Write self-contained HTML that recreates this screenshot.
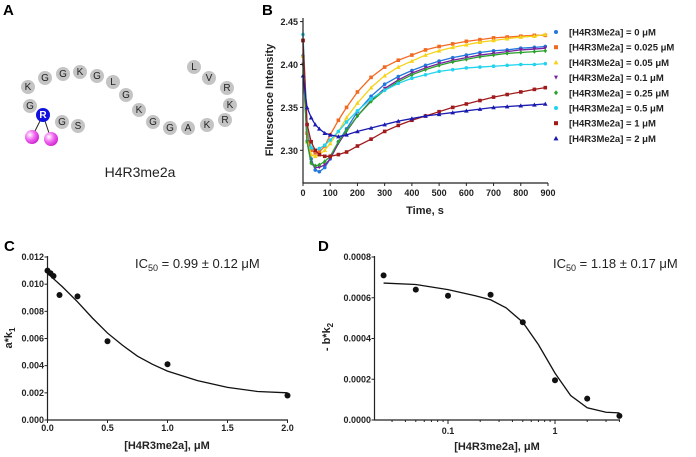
<!DOCTYPE html>
<html><head><meta charset="utf-8"><style>
body{margin:0;background:#fff;}
svg{display:block;font-family:"Liberation Sans",Arial,sans-serif;}
.t{font-size:9px;font-weight:bold;fill:#222;}
.ti{font-size:11px;font-weight:bold;fill:#222;}
.lg{font-size:9.5px;font-weight:bold;fill:#222;}
.pl{font-size:15px;font-weight:bold;}
.aa{font-size:10px;fill:#222;text-anchor:middle;dominant-baseline:central;}
</style></head><body>
<svg id="s" width="696" height="457" viewBox="0 0 696 457">
<text class="pl" x="3" y="15">A</text>
<text class="pl" x="262" y="15">B</text>
<text class="pl" x="4" y="251">C</text>
<text class="pl" x="318" y="251">D</text>
<g id="pa"></g>
<text x="140" y="177" font-size="14" text-anchor="middle" fill="#222">H4R3me2a</text>
<g id="pb"></g>
<g id="pc"></g>
<g id="pd"></g>
</svg>
<script>
const NS="http://www.w3.org/2000/svg";
function mk(p,t,a,txt){const e=document.createElementNS(NS,t);for(const k in a)e.setAttribute(k,a[k]);if(txt!==undefined)e.textContent=txt;p.appendChild(e);return e;}

// ---------- Panel A ----------
const residues=["S","G","R","G","K","G","G","K","G","L","G","K","G","G","A","K","R","K","R","V","L"];
const resX=[78,62,43,30,28,45,63,80,97,113,126,139,153,170,188,207,225,230,227,209,194];
const resY=[126,122,115,106,87,78,74,72,76,82,95,110,122,128,128,125,120,105,88,78,67];
const pa=document.getElementById('pa');
mk(pa,'defs',{}).innerHTML='<radialGradient id="pk" cx="0.35" cy="0.35" r="0.7"><stop offset="0" stop-color="#fff"/><stop offset="0.5" stop-color="#f06bf0"/><stop offset="1" stop-color="#d020d0"/></radialGradient>';
let l1=mk(pa,'line',{x1:43,y1:115,x2:32,y2:137,stroke:'#222','stroke-width':1});

let l2=mk(pa,'line',{x1:43,y1:115,x2:51,y2:139,stroke:'#222','stroke-width':1});

residues.forEach((r,i)=>{
  const blue=(i===2);
  const g=mk(pa,'g',{});
  
  
  mk(g,'circle',{cx:resX[i],cy:resY[i],r:7,fill:blue?'#1010e0':'#c4c4c4'});
  const t=mk(g,'text',{x:resX[i],y:resY[i]+0.5,class:'aa','font-weight':blue?'bold':'normal'},r);
  if(blue)t.setAttribute('style','fill:#fff');
});
[[32,137],[51,139]].forEach((c,i)=>{const b=mk(pa,'circle',{cx:c[0],cy:c[1],r:7,fill:'url(#pk)'});
});

// ---------- Panel B ----------
const times=[0,15,30,45,60,80,100,130,160,200,250,300,350,400,450,500,550,600,650,700,750,800,850,890];
const s0=[2.41,2.33,2.29,2.277,2.275,2.28,2.29,2.31,2.325,2.345,2.363,2.377,2.386,2.393,2.399,2.404,2.408,2.411,2.414,2.416,2.417,2.419,2.42,2.421];
const s025=[2.428,2.32,2.30,2.297,2.298,2.305,2.318,2.335,2.35,2.368,2.385,2.397,2.405,2.411,2.417,2.421,2.424,2.427,2.429,2.431,2.432,2.433,2.434,2.434];
const s05=[2.41,2.31,2.295,2.293,2.295,2.3,2.308,2.322,2.338,2.355,2.373,2.387,2.397,2.404,2.411,2.416,2.42,2.423,2.426,2.428,2.43,2.432,2.433,2.435];
const s1=[2.40,2.31,2.285,2.28,2.28,2.283,2.29,2.308,2.322,2.34,2.358,2.372,2.382,2.39,2.396,2.401,2.405,2.408,2.411,2.413,2.415,2.417,2.418,2.419];
const s25=[2.40,2.31,2.285,2.282,2.283,2.287,2.293,2.31,2.323,2.34,2.357,2.37,2.38,2.388,2.394,2.399,2.403,2.406,2.409,2.411,2.413,2.414,2.415,2.416];
const s5=[2.435,2.33,2.303,2.3,2.302,2.306,2.312,2.322,2.333,2.346,2.36,2.37,2.378,2.384,2.388,2.392,2.394,2.396,2.397,2.398,2.399,2.4,2.4,2.401];
const s10=[2.428,2.33,2.31,2.30,2.295,2.293,2.293,2.295,2.298,2.305,2.313,2.322,2.329,2.335,2.34,2.345,2.35,2.354,2.358,2.362,2.365,2.368,2.371,2.373];
const s20=[2.387,2.35,2.338,2.33,2.325,2.32,2.318,2.316,2.318,2.322,2.326,2.33,2.334,2.337,2.34,2.342,2.344,2.346,2.348,2.35,2.351,2.352,2.353,2.354];
const seriesB=[s0,s025,s05,s1,s25,s5,s10,s20];
const legendB=["[H4R3Me2a] = 0 μM","[H4R3Me2a] = 0.025 μM","[H4R3Me2a] = 0.05 μM","[H4R3Me2a] = 0.1 μM","[H4R3Me2a] = 0.25 μM","[H4R3Me2a] = 0.5 μM","[H4R3Me2a] = 1 μM","[H4R3Me2a] = 2 μM"];
const xTicksB=[0,100,200,300,400,500,600,700,800,900];
const yTicksB=[2.30,2.35,2.40,2.45];
const colB=['#2277dd','#f26a21','#f5d31a','#7a1fa0','#2ca02c','#22d3ee','#a01a1c','#1a1ab0'];
const shpB=['c','s','t','v','d','c','s','t'];
const pb=document.getElementById('pb');
const bx=v=>303+v*(245/900), by=v=>150.3-(v-2.30)*(42.9/0.05);
function marker(p,sh,x,y,c,r){
  if(sh==='c')return mk(p,'circle',{cx:x,cy:y,r:r,fill:c});
  if(sh==='s')return mk(p,'rect',{x:x-r,y:y-r,width:2*r,height:2*r,fill:c});
  if(sh==='t')return mk(p,'polygon',{points:`${x},${y-r-0.5} ${x-r-0.5},${y+r} ${x+r+0.5},${y+r}`,fill:c});
  if(sh==='v')return mk(p,'polygon',{points:`${x},${y+r} ${x-r},${y-r} ${x+r},${y-r}`,fill:c});
  return mk(p,'polygon',{points:`${x},${y-r-0.5} ${x+r},${y} ${x},${y+r+0.5} ${x-r},${y}`,fill:c});
}
seriesB.forEach((s,k)=>{
  const g=mk(pb,'g',{});
  
  
  const pl=mk(g,'polyline',{points:s.map((v,i)=>bx(times[i])+','+by(v)).join(' '),fill:'none',stroke:colB[k],'stroke-width':1.3,'stroke-linejoin':'round'});
  
  s.forEach((v,i)=>{const m=marker(g,shpB[k],bx(times[i]),by(v),colB[k],1.8);
    });
  const ly=32+k*15.2;
  const lm=marker(pb,shpB[k],556,ly,colB[k],2);
  
  const lt=mk(pb,'text',{x:569,y:ly+3.5,class:'lg'},legendB[k]);
  
});
let ax=mk(pb,'path',{d:'M303,18V183H548',fill:'none',stroke:'#222','stroke-width':1.2});

xTicksB.forEach(v=>{mk(pb,'line',{x1:bx(v),x2:bx(v),y1:183,y2:186,stroke:'#222'});
 const t=mk(pb,'text',{x:bx(v),y:196,class:'t','text-anchor':'middle','font-size':'10'},v);
 });
yTicksB.forEach(v=>{mk(pb,'line',{x1:300,x2:303,y1:by(v),y2:by(v),stroke:'#222'});
 const t=mk(pb,'text',{x:298,y:by(v)+3.5,class:'t','text-anchor':'end','font-size':'10'},v.toFixed(2));
 });
let xt=mk(pb,'text',{x:425,y:214,class:'ti','text-anchor':'middle'},'Time, s');

let yt=mk(pb,'text',{x:0,y:0,class:'ti','text-anchor':'middle',transform:'translate(273,100) rotate(-90)'},'Flurescence Intensity');


// ---------- Panel C ----------
const concC=[0,0.025,0.05,0.1,0.25,0.5,1,2];
const valC=[0.011,0.0108,0.0106,0.0092,0.0091,0.0058,0.0041,0.0018];
const fitXC=[0,0.125,0.25,0.375,0.5,0.625,0.75,0.875,1,1.25,1.5,1.75,2];
const fitYC=[0.0108,0.0098,0.0087,0.0075,0.0064,0.0055,0.0047,0.0041,0.0036,0.0029,0.0024,0.0021,0.0020];
const xTicksC=[0,0.5,1,1.5,2];
const yTicksC=[0,0.002,0.004,0.006,0.008,0.01,0.012];

// ---------- Panel D ----------
const concD=[0.025,0.05,0.1,0.25,0.5,1,2,4];
const valD=[0.00071,0.00064,0.00061,0.000615,0.00048,0.000195,0.000105,0.00002];
const fitXD=[0.025,0.05,0.1,0.18,0.25,0.35,0.5,0.7,1,1.4,2,3,4];
const fitYD=[0.000672,0.000665,0.00064,0.00061,0.00059,0.00055,0.00048,0.00037,0.00023,0.00012,0.00006,0.000038,0.000035];
const xTicksD=[0.1,1];
const yTicksD=[0,0.0002,0.0004,0.0006,0.0008];

(function(){
const pc=document.getElementById('pc');
const cx=v=>47.5+v*120, cy=v=>420-v*(163/0.012);
let a=mk(pc,'path',{d:'M47.5,256V420H288',fill:'none',stroke:'#222','stroke-width':1.2});

xTicksC.forEach(v=>{mk(pc,'line',{x1:cx(v),x2:cx(v),y1:420,y2:423,stroke:'#222'});
 const t=mk(pc,'text',{x:cx(v),y:431,class:'t','text-anchor':'middle'},v.toFixed(1));
 });
yTicksC.forEach(v=>{mk(pc,'line',{x1:44.5,x2:47.5,y1:cy(v),y2:cy(v),stroke:'#222'});
 const t=mk(pc,'text',{x:44,y:cy(v)+3,class:'t','text-anchor':'end','font-size':'8'},v.toFixed(3));
 });
const f=mk(pc,'polyline',{points:fitXC.map((v,i)=>cx(v)+','+cy(fitYC[i])).join(' '),fill:'none',stroke:'#111','stroke-width':1.3});

concC.forEach((v,i)=>{const p=mk(pc,'circle',{cx:cx(v),cy:cy(valC[i]),r:3,fill:'#111'});
 });
let t1=mk(pc,'text',{x:135,y:268,'font-size':'13',fill:'#222'});
t1.innerHTML='IC<tspan font-size="9" dy="3">50</tspan><tspan dy="-3"> = 0.99 ± 0.12 μM</tspan>';

let xt=mk(pc,'text',{x:167,y:449,class:'ti','text-anchor':'middle'},'[H4R3me2a], μM');

let yt=mk(pc,'text',{x:0,y:0,class:'ti','text-anchor':'middle',transform:'translate(12,338) rotate(-90)'});
yt.innerHTML='a*k<tspan font-size="8" dy="3">1</tspan>';

})();

(function(){
const pd=document.getElementById('pd');
const dx=v=>555+Math.log10(v)*107, dy=v=>420-v*(163/0.0008);
let a=mk(pd,'path',{d:'M374.5,256V420H620',fill:'none',stroke:'#222','stroke-width':1.2});

const minor=[0.03,0.04,0.05,0.06,0.07,0.08,0.09,0.2,0.3,0.4,0.5,0.6,0.7,0.8,0.9,2,3,4];
minor.forEach(v=>{if(dx(v)<621&&dx(v)>375)mk(pd,'line',{x1:dx(v),x2:dx(v),y1:420,y2:422,stroke:'#222'});});
xTicksD.forEach(v=>{mk(pd,'line',{x1:dx(v),x2:dx(v),y1:420,y2:424,stroke:'#222'});
 const t=mk(pd,'text',{x:dx(v),y:434,class:'t','text-anchor':'middle'},String(v));
 });
yTicksD.forEach(v=>{mk(pd,'line',{x1:371.5,x2:374.5,y1:dy(v),y2:dy(v),stroke:'#222'});
 const t=mk(pd,'text',{x:371,y:dy(v)+3,class:'t','text-anchor':'end','font-size':'8'},v.toFixed(4));
 });
const f=mk(pd,'polyline',{points:fitXD.map((v,i)=>dx(v)+','+dy(fitYD[i])).join(' '),fill:'none',stroke:'#111','stroke-width':1.3});

concD.forEach((v,i)=>{const p=mk(pd,'circle',{cx:dx(v),cy:dy(valD[i]),r:3,fill:'#111'});
 });
let t1=mk(pd,'text',{x:553,y:268,'font-size':'13',fill:'#222'});
t1.innerHTML='IC<tspan font-size="9" dy="3">50</tspan><tspan dy="-3"> = 1.18 ± 0.17 μM</tspan>';

let xt=mk(pd,'text',{x:497,y:450,class:'ti','text-anchor':'middle'},'[H4R3me2a], μM');

let yt=mk(pd,'text',{x:0,y:0,class:'ti','text-anchor':'middle',transform:'translate(330,337) rotate(-90)'});
yt.innerHTML='- b*k<tspan font-size="8" dy="3">2</tspan>';

})();
</script>
</body></html>
